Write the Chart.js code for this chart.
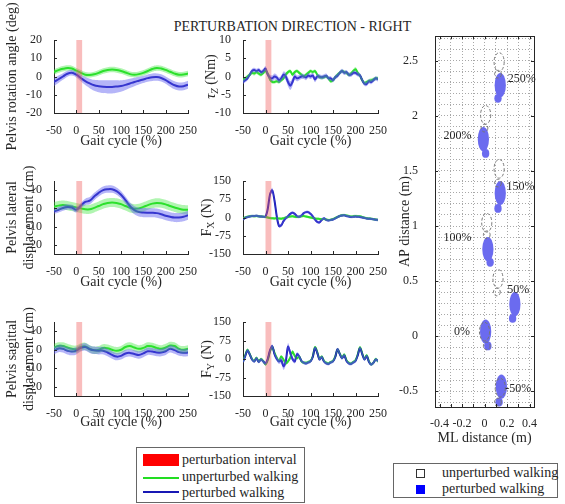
<!DOCTYPE html>
<html>
<head>
<meta charset="utf-8">
<script src="https://cdn.jsdelivr.net/npm/chart.js@4.4.1/dist/chart.umd.min.js"></script>
<style>
    body { margin: 0; background: #fff; }
    #fig { position: relative; width: 565px; height: 504px; overflow: hidden; background: #fff;
           font-family: "Liberation Serif", "Times New Roman", serif; color: #262626; }
    #fig canvas { position: absolute; }
    .abs { position: absolute; white-space: nowrap; }
    #mainTitle { left: 0; width: 585px; top: 18px; text-align: center; font-size: 14px; line-height: 18px; }
    .legBox { position: absolute; border: 1px solid #666; box-sizing: border-box; background: #fff; }
    .legText { position: absolute; font-size: 14px; line-height: 16px; white-space: nowrap; }
</style>
</head>
<body>
<div id="fig">
    <div id="mainTitle" class="abs">PERTURBATION DIRECTION - RIGHT</div>

    <canvas id="rotChart" width="200" height="152" style="left:0;top:0"></canvas>
    <canvas id="tauChart" width="195" height="152" style="left:195px;top:0"></canvas>
    <canvas id="latChart" width="200" height="153" style="left:0;top:140px"></canvas>
    <canvas id="fxChart" width="195" height="153" style="left:195px;top:140px"></canvas>
    <canvas id="sagChart" width="200" height="148" style="left:0;top:285px"></canvas>
    <canvas id="fyChart" width="195" height="148" style="left:195px;top:285px"></canvas>
    <canvas id="footChart" width="170" height="430" style="left:395px;top:20px"></canvas>

    <div class="legBox" style="left:136px;top:447px;width:169px;height:56px">
        <div style="position:absolute;left:6px;top:6px;width:36px;height:12px;background:#ff0000"></div>
        <div style="position:absolute;left:6px;top:29px;width:36px;height:2px;background:#22dd22"></div>
        <div style="position:absolute;left:6px;top:43px;width:36px;height:2px;background:#1818b4"></div>
        <div class="legText" style="left:45px;top:4px">perturbation interval</div>
        <div class="legText" style="left:45px;top:21px">unperturbed walking</div>
        <div class="legText" style="left:45px;top:37px">perturbed walking</div>
    </div>

    <div class="legBox" style="left:393px;top:463px;width:165px;height:35px">
        <div style="position:absolute;left:22px;top:5px;width:9px;height:9px;border:1px solid #333;box-sizing:border-box"></div>
        <div style="position:absolute;left:22px;top:21px;width:9px;height:9px;background:#0000ff"></div>
        <div class="legText" style="left:48px;top:1px">unperturbed walking</div>
        <div class="legText" style="left:48px;top:17px">perturbed walking</div>
    </div>
</div>

<script>
// ---- data ----
const gaitTicks = [-50, 0, 50, 100, 150, 200, 250];
const perturbInterval = [0, 13];

const rotTicks = [-20, -10, 0, 10, 20];
const dispTicks = [-20, -10, 0, 10];
const tauTicks = [-10, -5, 0, 5, 10];
const forceTicks = [-150, -75, 0, 75, 150];

// kinematics, sampled every 10 % of the gait cycle
const smoothCycle = [-50, -40, -30, -20, -10, 0, 10, 20, 30, 40, 50, 60, 70, 80, 90, 100, 110, 120, 130, 140, 150, 160, 170, 180, 190, 200, 210, 220, 230, 240, 250];

const rotUnpert = [2.5, 3.5, 4.2, 4.6, 4.4, 3.2, 2.0, 1.0, 0.8, 1.2, 2.0, 3.0, 3.6, 3.8, 3.6, 3.0, 2.2, 1.3, 1.0, 1.3, 2.0, 3.0, 4.1, 4.7, 4.4, 3.6, 2.6, 1.6, 1.0, 1.1, 1.6];
const rotUnpertSd = [1.5, 1.5, 1.5, 1.5, 1.5, 1.5, 1.5, 1.4, 1.4, 1.4, 1.5, 1.5, 1.5, 1.5, 1.5, 1.5, 1.5, 1.5, 1.5, 1.5, 1.5, 1.5, 1.5, 1.5, 1.5, 1.5, 1.5, 1.5, 1.5, 1.5, 1.5];
const rotPert = [-3.0, -1.5, 0.0, 1.5, 2.0, 1.0, -0.8, -2.5, -3.8, -4.8, -5.3, -5.6, -5.7, -5.7, -5.5, -5.2, -4.6, -3.8, -3.0, -2.3, -1.6, -0.9, -0.4, -0.3, -0.8, -2.0, -3.5, -4.8, -5.5, -5.3, -4.5];
const rotPertSd = [2.2, 2.0, 1.8, 1.6, 1.5, 1.5, 1.8, 2.2, 2.6, 3.0, 3.3, 3.5, 3.6, 3.6, 3.4, 3.1, 2.8, 2.5, 2.3, 2.1, 2.0, 2.0, 2.0, 2.0, 2.0, 2.0, 2.1, 2.2, 2.2, 2.2, 2.2];

const latUnpert = [1.0, 1.5, 1.8, 1.5, 1.0, 0.5, 0.0, -0.5, -0.5, 0.3, 1.3, 2.3, 3.0, 3.2, 3.0, 2.3, 1.3, 0.3, -0.2, 0.0, 0.8, 1.8, 2.6, 3.0, 2.8, 2.2, 1.3, 0.5, -0.2, -0.7, -0.8];
const latUnpertSd = [2.5, 2.5, 2.5, 2.5, 2.5, 2.5, 2.5, 2.5, 2.5, 2.5, 2.5, 2.5, 2.5, 2.5, 2.5, 2.5, 2.5, 2.5, 2.5, 2.5, 2.5, 2.5, 2.5, 2.5, 2.5, 2.5, 2.5, 2.5, 2.5, 2.5, 2.5];
const latPert = [-1.5, -0.8, 0.2, 0.8, 0.5, -0.8, 1.5, 3.5, 4.2, 6.5, 8.5, 10.0, 10.5, 10.5, 9.5, 7.5, 4.5, 1.3, -1.0, -2.0, -2.3, -2.4, -2.4, -2.6, -3.2, -4.0, -4.6, -5.0, -5.0, -4.6, -3.8];
const latPertSd = [1.5, 1.5, 1.5, 1.5, 1.5, 1.5, 1.5, 1.8, 2.0, 2.0, 2.0, 2.0, 2.0, 2.0, 2.0, 2.0, 2.0, 2.0, 2.2, 2.4, 2.5, 2.5, 2.5, 2.5, 2.5, 2.5, 2.5, 2.5, 2.5, 2.5, 2.5];

const sagUnpert = [1.2, 2.0, 2.0, 1.2, 0.5, 0.3, 1.5, 1.8, 0.5, -0.3, 0.0, 1.0, 0.8, 0.0, -0.5, 0.0, 1.5, 2.0, 1.2, 0.5, 1.0, 2.0, 1.8, 1.0, 0.5, 1.2, 2.3, 2.0, 0.5, 0.0, 0.5];
const sagUnpertSd = [2.0, 2.0, 2.0, 2.0, 2.0, 2.0, 2.0, 2.0, 2.0, 2.0, 2.0, 2.0, 2.0, 2.0, 2.0, 2.0, 2.0, 2.0, 2.0, 2.0, 2.0, 2.0, 2.0, 2.0, 2.0, 2.0, 2.0, 2.0, 2.0, 2.0, 2.0];
const sagPert = [-0.5, 0.7, 0.5, -0.5, -1.0, -0.5, 1.0, 1.5, 0.3, -0.3, -0.5, -0.5, -1.5, -2.8, -3.7, -3.3, -2.0, -1.7, -2.3, -2.8, -2.0, -0.8, -1.0, -1.5, -1.5, -0.8, 0.5, -0.2, -1.3, -1.6, -1.5];
const sagPertSd = [2.0, 2.0, 2.0, 2.0, 2.0, 2.0, 2.0, 2.0, 2.0, 2.0, 2.0, 2.0, 2.0, 2.0, 2.0, 2.0, 2.0, 2.0, 2.0, 2.0, 2.0, 2.0, 2.0, 2.0, 2.0, 2.0, 2.0, 2.0, 2.0, 2.0, 2.0];

// kinetics, sampled every 5 % of the gait cycle
const forceCycle = [-50, -45, -40, -35, -30, -25, -20, -15, -10, -5, 0, 5, 10, 15, 20, 25, 30, 35, 40, 45, 50, 55, 60, 65, 70, 75, 80, 85, 90, 95, 100, 105, 110, 115, 120, 125, 130, 135, 140, 145, 150, 155, 160, 165, 170, 175, 180, 185, 190, 195, 200, 205, 210, 215, 220, 225, 230, 235, 240, 245, 250];

const tauUnpert = [-1, -0.5, 0, 0.5, 1, 0.8, 1.2, 0.8, 0.5, 1, 1.5, 0.8, -0.8, -1.5, -1.5, -1.3, -1.5, -1, -0.5, 0.5, 1.2, 1.5, 0.5, 1.2, 1.5, 1, 0.5, 0, 0.5, 1, 1.5, 1.2, 1.5, 0.5, -0.2, -0.3, -0.2, 0, -0.5, -1.3, -1, -0.2, 0.5, 1, 1.5, 1.2, 1, 0.5, 0.8, 1.5, 2, 1, 0.2, -1, -1.8, -1.5, -1.2, -1, -0.8, -0.5, -0.5];
const tauUnpertSd = [0.5, 0.5, 0.5, 0.5, 0.5, 0.5, 0.5, 0.5, 0.5, 0.5, 0.6, 0.6, 0.6, 0.5, 0.5, 0.5, 0.5, 0.5, 0.5, 0.5, 0.5, 0.5, 0.5, 0.5, 0.5, 0.5, 0.5, 0.5, 0.5, 0.5, 0.5, 0.5, 0.5, 0.5, 0.5, 0.5, 0.5, 0.5, 0.5, 0.5, 0.5, 0.5, 0.5, 0.5, 0.5, 0.5, 0.5, 0.5, 0.5, 0.5, 0.6, 0.6, 0.5, 0.5, 0.5, 0.5, 0.5, 0.5, 0.5, 0.5, 0.5];
const tauPert = [-1.5, -1, -0.5, 0.5, 1.5, 1.8, 1.5, 1.8, 1.2, 1.5, 2.2, 0.5, -0.3, -0.5, 0, -0.3, -1, -0.5, 0.5, 0, -1.5, -2.5, -1.5, 0, -0.5, -0.3, 0, 0, -0.3, 0.3, 0, 0.3, -0.8, 0, 0, -0.2, 0, 0.2, -0.5, -0.5, -1, -0.2, 0.2, 1, 1.5, 1, 1.2, 0.5, 0.5, 1, 1, 0.6, 0.3, -1, -2, -2, -1.3, -1.5, -1, -0.5, -0.8];
const tauPertSd = [0.6, 0.6, 0.6, 0.6, 0.6, 0.6, 0.6, 0.6, 0.6, 0.6, 0.7, 0.7, 0.8, 0.8, 0.8, 0.8, 0.8, 0.8, 0.9, 1.0, 1.2, 1.2, 1.1, 0.9, 0.8, 0.7, 0.7, 0.7, 0.7, 0.7, 0.7, 0.7, 0.8, 0.7, 0.6, 0.6, 0.6, 0.6, 0.6, 0.6, 0.6, 0.6, 0.6, 0.6, 0.6, 0.6, 0.6, 0.6, 0.6, 0.6, 0.6, 0.6, 0.6, 0.6, 0.6, 0.6, 0.6, 0.6, 0.6, 0.6, 0.6];

const fxUnpert = [-5, 0, 3, 5, 6, 5, 6, 5, 4, 3, 2, 0, -2, -3, -4, -3, -4, -5, -3, 0, 2, 4, 5, 3, 2, 3, 5, 6, 4, 2, 0, -2, -4, -5, -6, -7, -6, -8, -10, -9, -6, -2, 2, 6, 9, 10, 8, 6, 4, 5, 6, 5, 5, 2, -1, -3, -4, -5, -7, -8, -10];
const fxUnpertSd = [5, 5, 5, 5, 5, 5, 5, 5, 5, 5, 5, 5, 5, 5, 5, 5, 5, 5, 5, 5, 5, 5, 5, 5, 5, 5, 5, 5, 5, 5, 5, 5, 5, 5, 5, 5, 5, 5, 5, 5, 5, 5, 5, 5, 5, 5, 5, 5, 5, 5, 5, 5, 5, 5, 5, 5, 5, 5, 5, 5, 5];
const fxPert = [-8, -2, 2, 4, 6, 6, 7, 5, 4, 3, 3, 35, 95, 112, 70, 5, -35, -32, -15, -3, 5, 15, 20, 15, 5, 3, 8, 18, 22, 22, 15, 5, -8, -18, -20, -10, -3, -10, -12, -10, -8, -4, 2, 6, 8, 9, 6, 4, 2, 3, 4, 3, 2, 0, -2, -4, -5, -6, -7, -9, -10];
const fxPertSd = [5, 5, 5, 5, 5, 5, 5, 5, 5, 5, 5, 7, 9, 10, 9, 8, 7, 7, 6, 6, 6, 6, 6, 6, 6, 6, 6, 6, 6, 6, 6, 6, 6, 6, 6, 6, 5, 5, 5, 5, 5, 5, 5, 5, 5, 5, 5, 5, 5, 5, 5, 5, 5, 5, 5, 5, 5, 5, 5, 5, 5];

const fyUnpert = [-10, 15, 38, 20, 0, -8, 5, -10, 0, -8, -22, -5, 30, 50, 25, 5, -8, 10, -2, -18, -10, 5, 30, 12, 3, 10, -10, -15, -15, -12, -8, 10, 48, 28, 0, 10, -8, -15, -18, -12, -8, 10, 38, 22, 5, 18, -5, -15, -18, -12, -5, 18, 48, 22, 0, 15, -10, -22, -15, 0, -10];
const fyUnpertSd = [6, 6, 6, 6, 6, 6, 6, 6, 6, 6, 6, 6, 6, 6, 6, 6, 6, 6, 6, 6, 6, 6, 6, 6, 6, 6, 6, 6, 6, 6, 6, 6, 6, 6, 6, 6, 6, 6, 6, 6, 6, 6, 6, 6, 6, 6, 6, 6, 6, 6, 6, 6, 6, 6, 6, 6, 6, 6, 6, 6, 6];
const fyPert = [-12, 12, 35, 18, -2, -10, 3, -12, -2, -10, -18, 0, 35, 52, 20, 0, -10, -5, -30, -10, 50, 25, 0, -10, 20, 10, -8, -15, -18, -14, -10, 8, 45, 25, -2, 8, -10, -18, -20, -14, -10, 8, 40, 20, 3, 15, -8, -18, -20, -14, -8, 15, 45, 20, -2, 12, -12, -22, -15, -2, -8];
const fyPertSd = [6, 6, 6, 6, 6, 6, 6, 6, 6, 6, 7, 8, 8, 8, 8, 8, 10, 12, 14, 15, 15, 14, 10, 8, 8, 7, 6, 6, 6, 6, 6, 6, 6, 6, 6, 6, 6, 6, 6, 6, 6, 6, 6, 6, 6, 6, 6, 6, 6, 6, 6, 6, 6, 6, 6, 6, 6, 6, 6, 6, 6];

// footprints (ML, AP in metres)
const stepLabels = ['-50%', '0%', '50%', '100%', '150%', '200%', '250%'];
const pertToeML = [0.15, 0.01, 0.27, 0.03, 0.14, -0.01, 0.14];
const pertToeAP = [-0.46, 0.04, 0.29, 0.79, 1.30, 1.79, 2.28];
const pertHeelML = [0.13, 0.03, 0.25, 0.05, 0.12, 0.01, 0.12];
const pertHeelAP = [-0.60, -0.09, 0.16, 0.67, 1.16, 1.66, 2.16];
const unpertToeML = [0.14, 0.00, 0.12, 0.02, 0.13, 0.01, 0.13];
const unpertToeAP = [-0.47, 0.04, 0.52, 1.03, 1.52, 2.01, 2.49];
const unpertHeelML = [0.12, 0.02, 0.11, 0.02, 0.12, 0.00, 0.12];
const unpertHeelAP = [-0.60, -0.09, 0.40, 0.92, 1.39, 1.89, 2.38];
const stepLabelML = [0.30, -0.20, 0.30, -0.24, 0.32, -0.24, 0.33];
const stepLabelAP = [-0.48, 0.04, 0.42, 0.89, 1.36, 1.82, 2.34];

const mlTicks = [-0.4, -0.2, 0, 0.2, 0.4];
const apTicks = [-0.5, 0, 0.5, 1, 1.5, 2, 2.5];
const mlGrid = [-0.4, -0.3, -0.2, -0.1, 0, 0.1, 0.2, 0.3, 0.4];
const apGrid = [-0.6, -0.5, -0.4, -0.3, -0.2, -0.1, 0, 0.1, 0.2, 0.3, 0.4, 0.5, 0.6, 0.7, 0.8, 0.9, 1, 1.1, 1.2, 1.3, 1.4, 1.5, 1.6, 1.7, 1.8, 1.9, 2, 2.1, 2.2, 2.3, 2.4, 2.5, 2.6, 2.7];

// ---- styles ----
const greenLine = '#22dd22';
const greenBand = 'rgba(60, 230, 60, 0.40)';
const blueLine = '#1818b4';
const blueBand = 'rgba(90, 90, 240, 0.45)';
const axisColor = '#262626';
const serif = '"Liberation Serif", "Times New Roman", serif';

Chart.defaults.font.family = serif;
Chart.defaults.font.size = 12;
Chart.defaults.color = axisColor;
Chart.defaults.animation = false;

function pts(xs, ys) {
    return xs.map((x, i) => ({ x: x, y: ys[i] }));
}
function band(xs, mean, sd, sign) {
    return xs.map((x, i) => ({ x: x, y: mean[i] + sign * sd[i] }));
}
function fixedTicks(values) {
    return axis => { axis.ticks = values.map(v => ({ value: v })); };
}

// red perturbation window
const intervalPlugin = {
    id: 'interval',
    afterDatasetsDraw(chart) {
        const { ctx, chartArea, scales } = chart;
        const x0 = scales.x.getPixelForValue(perturbInterval[0]);
        const x1 = scales.x.getPixelForValue(perturbInterval[1]);
        ctx.save();
        ctx.fillStyle = 'rgba(240, 90, 90, 0.40)';
        ctx.fillRect(x0, chartArea.top, x1 - x0, chartArea.bottom - chartArea.top);
        ctx.restore();
    }
};

// y labels with a subscript, e.g. tau_Z
const subLabelPlugin = {
    id: 'subLabel',
    afterDraw(chart, args, opts) {
        if (!opts || !opts.parts) return;
        const { ctx, chartArea } = chart;
        const [main, sub, rest] = opts.parts;
        ctx.save();
        ctx.translate(opts.x, (chartArea.top + chartArea.bottom) / 2);
        ctx.rotate(-Math.PI / 2);
        ctx.fillStyle = axisColor;
        ctx.textBaseline = 'middle';
        const mainFont = (opts.italic ? 'italic ' : '') + '14px ' + serif;
        const subFont = (opts.italic ? 'italic ' : '') + '10px ' + serif;
        const restFont = '14px ' + serif;
        ctx.font = mainFont; const w1 = ctx.measureText(main).width;
        ctx.font = subFont; const w2 = ctx.measureText(sub).width;
        ctx.font = restFont; const w3 = ctx.measureText(rest).width;
        let x = -(w1 + w2 + w3) / 2;
        ctx.font = mainFont; ctx.fillText(main, x, 0); x += w1;
        ctx.font = subFont; ctx.fillText(sub, x, 4); x += w2;
        ctx.font = restFont; ctx.fillText(rest, x, 0);
        ctx.restore();
    }
};

// MATLAB style inward tick marks (and optional full box)
const innerTicksPlugin = {
    id: 'innerTicks',
    afterDraw(chart, args, opts) {
        if (!opts || !opts.on) return;
        const { ctx, chartArea: a, scales } = chart;
        const xs = scales[opts.xTicks || 'x'];
        const ys = scales[opts.yTicks || 'y'];
        const len = 3;
        ctx.save();
        ctx.strokeStyle = axisColor;
        ctx.lineWidth = 1;
        ctx.beginPath();
        xs.ticks.forEach(t => {
            const px = Math.round(xs.getPixelForValue(t.value)) + 0.5;
            ctx.moveTo(px, a.bottom); ctx.lineTo(px, a.bottom - len);
            if (opts.box) { ctx.moveTo(px, a.top); ctx.lineTo(px, a.top + len); }
        });
        ys.ticks.forEach(t => {
            const py = Math.round(ys.getPixelForValue(t.value)) + 0.5;
            ctx.moveTo(a.left, py); ctx.lineTo(a.left + len, py);
            if (opts.box) { ctx.moveTo(a.right, py); ctx.lineTo(a.right - len, py); }
        });
        ctx.stroke();
        if (opts.box) {
            ctx.strokeRect(Math.round(a.left) + 0.5, Math.round(a.top) + 0.5, Math.round(a.right - a.left), Math.round(a.bottom - a.top));
        }
        ctx.restore();
    }
};

Chart.register(subLabelPlugin, innerTicksPlugin);

function makeGaitChart(canvasId, cfg) {
    const t = cfg.tension;
    const bandStyle = { borderWidth: 0, pointRadius: 0, tension: t };
    const datasets = [
        Object.assign({ data: band(cfg.cycle, cfg.pert, cfg.pertSd, 1), fill: '+1', backgroundColor: blueBand }, bandStyle),
        Object.assign({ data: band(cfg.cycle, cfg.pert, cfg.pertSd, -1), fill: false }, bandStyle),
        Object.assign({ data: band(cfg.cycle, cfg.unpert, cfg.unpertSd, 1), fill: '+1', backgroundColor: greenBand }, bandStyle),
        Object.assign({ data: band(cfg.cycle, cfg.unpert, cfg.unpertSd, -1), fill: false }, bandStyle),
        { label: 'perturbed walking', data: pts(cfg.cycle, cfg.pert), borderColor: blueLine, borderWidth: 2, pointRadius: 0, fill: false, tension: t },
        { label: 'unperturbed walking', data: pts(cfg.cycle, cfg.unpert), borderColor: greenLine, borderWidth: 2, pointRadius: 0, fill: false, tension: t }
    ];

    const yTitle = cfg.yTitle
        ? { display: true, text: cfg.yTitle, font: { size: 14 }, padding: { top: 4, bottom: 0 } }
        : { display: false };

    return new Chart(document.getElementById(canvasId), {
        type: 'line',
        data: { datasets: datasets },
        options: {
            responsive: false,
            animation: false,
            layout: { autoPadding: false, padding: { top: cfg.frame.top, right: cfg.frame.right, left: 0, bottom: 0 } },
            plugins: {
                legend: { display: false },
                tooltip: { enabled: false },
                subLabel: cfg.sub || {},
                innerTicks: { on: true }
            },
            scales: {
                x: {
                    type: 'linear', min: -50, max: 250,
                    afterBuildTicks: fixedTicks(gaitTicks),
                    afterFit: ax => { ax.height = cfg.frame.xh; },
                    grid: { display: false },
                    border: { color: axisColor },
                    ticks: { padding: 3, autoSkip: false, maxRotation: 0, callback: v => String(v) },
                    title: { display: true, text: 'Gait cycle (%)', font: { size: 14 }, padding: { top: 0, bottom: 2 } }
                },
                y: {
                    type: 'linear', min: cfg.yMin, max: cfg.yMax,
                    afterBuildTicks: fixedTicks(cfg.yTicks),
                    afterFit: ax => { ax.width = cfg.frame.yw; },
                    grid: { display: false },
                    border: { color: axisColor },
                    ticks: { padding: 4, callback: v => String(v) },
                    title: yTitle
                }
            }
        },
        plugins: [intervalPlugin]
    });
}

const leftTop = { top: 40, right: 10, yw: 54, xh: 39 };
const rightTop = { top: 40, right: 10, yw: 48, xh: 39 };

makeGaitChart('rotChart', {
    cycle: smoothCycle, unpert: rotUnpert, unpertSd: rotUnpertSd, pert: rotPert, pertSd: rotPertSd,
    yMin: -20, yMax: 20, yTicks: rotTicks, tension: 0.4,
    yTitle: 'Pelvis rotation angle (deg)', frame: leftTop
});
makeGaitChart('tauChart', {
    cycle: forceCycle, unpert: tauUnpert, unpertSd: tauUnpertSd, pert: tauPert, pertSd: tauPertSd,
    yMin: -10, yMax: 10, yTicks: tauTicks, tension: 0.3,
    sub: { x: 16, parts: ['τ', 'Z', ' (Nm)'], italic: true }, frame: rightTop
});
makeGaitChart('latChart', {
    cycle: smoothCycle, unpert: latUnpert, unpertSd: latUnpertSd, pert: latPert, pertSd: latPertSd,
    yMin: -25, yMax: 15, yTicks: dispTicks, tension: 0.4,
    yTitle: ['Pelvis lateral', 'displacement (cm)'], frame: { top: 41, right: 10, yw: 54, xh: 39 }
});
makeGaitChart('fxChart', {
    cycle: forceCycle, unpert: fxUnpert, unpertSd: fxUnpertSd, pert: fxPert, pertSd: fxPertSd,
    yMin: -150, yMax: 150, yTicks: forceTicks, tension: 0.3,
    sub: { x: 12, parts: ['F', 'X', ' (N)'] }, frame: { top: 41, right: 10, yw: 48, xh: 39 }
});
makeGaitChart('sagChart', {
    cycle: smoothCycle, unpert: sagUnpert, unpertSd: sagUnpertSd, pert: sagPert, pertSd: sagPertSd,
    yMin: -25, yMax: 15, yTicks: dispTicks, tension: 0.4,
    yTitle: ['Pelvis sagittal', 'displacement (cm)'], frame: { top: 37, right: 10, yw: 54, xh: 37 }
});
makeGaitChart('fyChart', {
    cycle: forceCycle, unpert: fyUnpert, unpertSd: fyUnpertSd, pert: fyPert, pertSd: fyPertSd,
    yMin: -150, yMax: 150, yTicks: forceTicks, tension: 0.3,
    sub: { x: 12, parts: ['F', 'Y', ' (N)'] }, frame: { top: 37, right: 10, yw: 48, xh: 37 }
});

// ---- footprint map ----
const toeSize = { w: 0.10, h: 0.22 };
const heelSize = { w: 0.065, h: 0.08 };
const oldToeSize = { w: 0.09, h: 0.17 };
const oldHeelSize = { w: 0.06, h: 0.07 };

function ellipsePath(ctx, xs, ys, cx, cy, size) {
    const px = xs.getPixelForValue(cx);
    const py = ys.getPixelForValue(cy);
    const rx = Math.abs(xs.getPixelForValue(cx + size.w / 2) - px);
    const ry = Math.abs(ys.getPixelForValue(cy + size.h / 2) - py);
    ctx.beginPath();
    ctx.ellipse(px, py, rx, ry, 0, 0, Math.PI * 2);
}

const footprintPlugin = {
    id: 'footprints',
    afterDatasetsDraw(chart) {
        const { ctx, scales } = chart;
        const xs = scales.x, ys = scales.y;
        ctx.save();
        ctx.fillStyle = '#6b6bef';
        stepLabels.forEach((s, i) => {
            ellipsePath(ctx, xs, ys, pertToeML[i], pertToeAP[i], toeSize); ctx.fill();
            ellipsePath(ctx, xs, ys, pertHeelML[i], pertHeelAP[i], heelSize); ctx.fill();
        });
        ctx.strokeStyle = '#777';
        ctx.lineWidth = 1;
        ctx.setLineDash([3, 2]);
        stepLabels.forEach((s, i) => {
            ellipsePath(ctx, xs, ys, unpertToeML[i], unpertToeAP[i], oldToeSize); ctx.stroke();
            ellipsePath(ctx, xs, ys, unpertHeelML[i], unpertHeelAP[i], oldHeelSize); ctx.stroke();
        });
        ctx.setLineDash([]);
        ctx.fillStyle = axisColor;
        ctx.font = '12px ' + serif;
        ctx.textAlign = 'center';
        ctx.textBaseline = 'middle';
        stepLabels.forEach((s, i) => {
            ctx.fillText(s, xs.getPixelForValue(stepLabelML[i]), ys.getPixelForValue(stepLabelAP[i]));
        });
        ctx.restore();
    }
};

new Chart(document.getElementById('footChart'), {
    type: 'scatter',
    data: {
        datasets: [
            { label: 'unperturbed walking', data: pts(unpertToeML, unpertToeAP), pointRadius: 0 },
            { label: 'perturbed walking', data: pts(pertToeML, pertToeAP), pointRadius: 0 }
        ]
    },
    options: {
        responsive: false,
        animation: false,
        layout: { autoPadding: false, padding: { top: 14, right: 31, left: 0, bottom: 0 } },
        plugins: {
            legend: { display: false },
            tooltip: { enabled: false },
            innerTicks: { on: true, box: true, xTicks: 'xg', yTicks: 'y' }
        },
        scales: {
            x: {
                type: 'linear', min: -0.44, max: 0.44,
                afterBuildTicks: fixedTicks(mlTicks),
                afterFit: ax => { ax.height = 43; },
                grid: { display: false },
                border: { display: false },
                ticks: { padding: 2, autoSkip: false, maxRotation: 0, callback: v => String(v) },
                title: { display: true, text: 'ML distance (m)', font: { size: 14 }, padding: { top: 0, bottom: 3 } }
            },
            xg: {
                type: 'linear', position: 'top', min: -0.44, max: 0.44,
                afterBuildTicks: fixedTicks(mlGrid),
                afterFit: ax => { ax.height = 0; },
                grid: { color: '#a8a8a8', drawTicks: false },
                border: { display: false, dash: [1, 2] },
                ticks: { display: false }
            },
            y: {
                type: 'linear', min: -0.645, max: 2.725,
                afterBuildTicks: fixedTicks(apTicks),
                afterFit: ax => { ax.width = 40; },
                grid: { display: false },
                border: { display: false },
                ticks: { padding: 9, callback: v => String(v) },
                title: { display: true, text: 'AP distance (m)', font: { size: 14 }, padding: { top: 2, bottom: 0 } }
            },
            yg: {
                type: 'linear', position: 'right', min: -0.645, max: 2.725,
                afterBuildTicks: fixedTicks(apGrid),
                afterFit: ax => { ax.width = 0; },
                grid: { color: '#a8a8a8', drawTicks: false },
                border: { display: false, dash: [1, 2] },
                ticks: { display: false }
            }
        }
    },
    plugins: [footprintPlugin]
});
</script>
</body>
</html>
